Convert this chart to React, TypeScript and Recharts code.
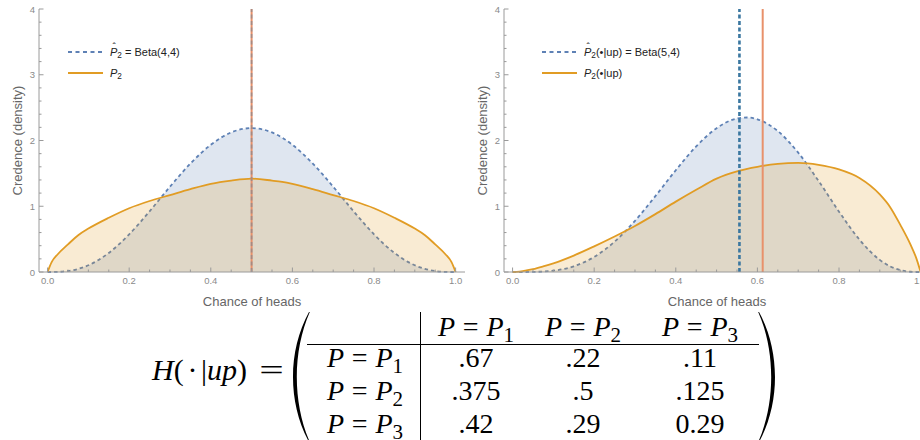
import React from "react";
import { ComposedChart, Area, XAxis, YAxis, ReferenceLine, Legend } from "recharts";

// chance of heads grid
const xs = [0, 0.01, 0.025, 0.05, 0.075, 0.1, 0.15, 0.2, 0.25, 0.3, 0.35, 0.4, 0.45, 0.5, 0.55, 0.575, 0.6, 0.65, 0.7, 0.75, 0.8, 0.85, 0.9, 0.925, 0.95, 0.975, 0.99, 1];

// left panel: prior
const leftBeta = [0, 0.0001, 0.002, 0.015, 0.047, 0.102, 0.29, 0.573, 0.923, 1.297, 1.649, 1.935, 2.123, 2.188, 2.123, 2.043, 1.935, 1.649, 1.297, 0.923, 0.573, 0.29, 0.102, 0.047, 0.015, 0.002, 0.0001, 0];
const leftP2 = [0, 0.15, 0.27, 0.42, 0.56, 0.66, 0.825, 0.97, 1.08, 1.17, 1.26, 1.34, 1.39, 1.42, 1.39, 1.37, 1.34, 1.26, 1.17, 1.08, 0.97, 0.825, 0.66, 0.56, 0.42, 0.27, 0.15, 0];

// right panel: after "up"
const rightBeta = [0, 0, 0.0001, 0.0015, 0.007, 0.02, 0.087, 0.229, 0.461, 0.778, 1.154, 1.548, 1.91, 2.188, 2.335, 2.35, 2.322, 2.143, 1.815, 1.384, 0.918, 0.493, 0.184, 0.087, 0.029, 0.004, 0.0003, 0];
const rightP2 = [0, 0.003, 0.013, 0.042, 0.084, 0.132, 0.25, 0.39, 0.54, 0.7, 0.88, 1.07, 1.25, 1.42, 1.53, 1.57, 1.6, 1.645, 1.66, 1.63, 1.56, 1.43, 1.18, 0.99, 0.72, 0.42, 0.2, 0];

// means drawn as vertical lines
const leftMeans = { beta: 0.5, p2: 0.5 };
const rightMeans = { beta: 0.556, p2: 0.613 };

const xTicks = [0, 0.05, 0.1, 0.15, 0.2, 0.25, 0.3, 0.35, 0.4, 0.45, 0.5, 0.55, 0.6, 0.65, 0.7, 0.75, 0.8, 0.85, 0.9, 0.95, 1];
const yTicks = [0, 0.2, 0.4, 0.6, 0.8, 1, 1.2, 1.4, 1.6, 1.8, 2, 2.2, 2.4, 2.6, 2.8, 3, 3.2, 3.4, 3.6, 3.8, 4];

// H(.|up) table
const colSubs = ["1", "2", "3"];
const rowSubs = ["1", "2", "3"];
const hValues = [
  [".67", ".22", ".11"],
  [".375", ".5", ".125"],
  [".42", ".29", "0.29"],
];

const BLUE = "#5E81B5";
const ORANGE = "#E19C24";
const MEAN_BLUE = "#3A77A0";
const MEAN_ORANGE = "#E8916B";
const AXIS = "#9a9a9a";

const leftData = xs.map((x, i) => ({ x, beta: leftBeta[i], p2: leftP2[i] }));
const rightData = xs.map((x, i) => ({ x, beta: rightBeta[i], p2: rightP2[i] }));

function XTick(props: any) {
  const { x, y, payload } = props;
  const v = payload.value;
  const major = Math.round(v * 20) % 4 === 0;
  return (
    <g>
      <line x1={x} x2={x} y1={y} y2={y - (major ? 4.5 : 2.5)} stroke={AXIS} />
      {major && (
        <text x={x} y={y + 12} textAnchor="middle" fontSize={9.5} fill="#8a8a8a">
          {v.toFixed(1)}
        </text>
      )}
    </g>
  );
}

function YTick(props: any) {
  const { x, y, payload } = props;
  const v = payload.value;
  const major = Math.round(v * 5) % 5 === 0;
  return (
    <g>
      <line x1={x} x2={x + (major ? 4.5 : 2.5)} y1={y} y2={y} stroke={AXIS} />
      {major && (
        <text x={x - 4} y={y + 3.5} textAnchor="end" fontSize={9.5} fill="#8a8a8a">
          {Math.round(v)}
        </text>
      )}
    </g>
  );
}

function Sub({ children }: { children: React.ReactNode }) {
  return <span style={{ fontSize: "0.75em", position: "relative", top: "0.3em" }}>{children}</span>;
}

function HatP() {
  return (
    <span style={{ position: "relative", fontStyle: "italic", display: "inline-block" }}>
      P
      <span style={{ position: "absolute", left: 2.5, top: -3.5, fontStyle: "normal", fontSize: 10, lineHeight: 1 }}>ˆ</span>
    </span>
  );
}

const leftLabels = [
  <span><HatP /><Sub>2</Sub> = Beta(4,4)</span>,
  <span><i>P</i><Sub>2</Sub></span>,
];
const rightLabels = [
  <span><HatP /><Sub>2</Sub>(•|up) = Beta(5,4)</span>,
  <span><i>P</i><Sub>2</Sub>(•|up)</span>,
];

function LegendBox({ labels }: { labels: React.ReactNode[] }) {
  const samples = [
    { color: BLUE, dash: "4 3.5" },
    { color: ORANGE, dash: undefined },
  ];
  return (
    <div style={{ fontSize: 11, color: "#222", fontFamily: "'Liberation Sans', Arial, sans-serif" }}>
      {labels.map((lab, i) => (
        <div key={i} style={{ display: "flex", alignItems: "center", height: 21 }}>
          <svg width={35} height={4} style={{ marginRight: 7 }}>
            <line x1={0} x2={35} y1={2} y2={2} stroke={samples[i].color} strokeWidth={2} strokeDasharray={samples[i].dash} />
          </svg>
          {lab}
        </div>
      ))}
    </div>
  );
}

function DensityChart({ data, means, labels, legendLeft, left }: any) {
  return (
    <div style={{ position: "absolute", left, top: 0 }}>
      <ComposedChart width={470} height={310} data={data} margin={{ top: 9, right: 5, bottom: 0, left: 0 }}>
        <XAxis
          type="number"
          dataKey="x"
          domain={[-0.021, 1.023]}
          allowDataOverflow
          ticks={xTicks}
          interval={0}
          tickSize={0}
          tickMargin={0}
          tickLine={false}
          tick={XTick}
          axisLine={{ stroke: AXIS }}
          height={38}
          label={{ value: "Chance of heads", position: "insideBottom", offset: 4, fill: "#666", fontSize: 13 }}
        />
        <YAxis
          type="number"
          domain={[0, 4]}
          ticks={yTicks}
          interval={0}
          tickSize={0}
          tickMargin={0}
          tickLine={false}
          tick={YTick}
          axisLine={{ stroke: AXIS }}
          width={39}
          label={{ value: "Credence (density)", angle: -90, position: "insideLeft", offset: 17, fill: "#666", fontSize: 13, style: { textAnchor: "middle" } }}
        />
        <Area type="monotone" dataKey="beta" stroke={BLUE} strokeWidth={1.8} strokeDasharray="3.5 3" fill={BLUE} fillOpacity={0.2} dot={false} activeDot={false} isAnimationActive={false} />
        <Area type="monotone" dataKey="p2" stroke={ORANGE} strokeWidth={1.8} fill={ORANGE} fillOpacity={0.2} dot={false} activeDot={false} isAnimationActive={false} />
        <ReferenceLine x={means.p2} stroke={MEAN_ORANGE} strokeWidth={2} />
        <ReferenceLine x={means.beta} stroke={MEAN_BLUE} strokeWidth={means.beta === means.p2 ? 2 : 2.6} strokeOpacity={means.beta === means.p2 ? 0.35 : 1} strokeDasharray="4 2.5" />
        <Legend
          layout="vertical"
          align="center"
          verticalAlign="middle"
          wrapperStyle={{ left: legendLeft, top: 41.5, width: "auto" }}
          content={() => <LegendBox labels={labels} />}
        />
      </ComposedChart>
    </div>
  );
}

function PEq({ sub }: { sub: string }) {
  return (
    <span>
      <i>P</i>
      <span style={{ margin: "0 0.28em" }}>=</span>
      <i>P</i>
      <Sub>{sub}</Sub>
    </span>
  );
}

function parenPath(xe: number, xb: number, top: number, bot: number, dir: number, thick: number) {
  const h = bot - top;
  const c1 = (xb - 0.25 * xe) / 0.75;
  const xi = xe + dir * 0.8;
  const c2 = (xb + dir * thick - 0.25 * xi) / 0.75;
  return `M${xe},${top} C${c1},${top + h * 0.3} ${c1},${bot - h * 0.3} ${xe},${bot} L${xi},${bot} C${c2},${bot - h * 0.3} ${c2},${top + h * 0.3} ${xi},${top} Z`;
}

const COL_X = [476, 583, 700];
const ROW_Y = [358, 391, 424];
const HEAD_Y = 327;
const LABEL_X = 365;

function Cell({ cx, cy, children }: any) {
  return (
    <div style={{ position: "absolute", left: cx, top: cy, transform: "translate(-50%, -50%)", whiteSpace: "nowrap" }}>
      {children}
    </div>
  );
}

function Matrix() {
  return (
    <div style={{ position: "absolute", left: 0, top: 0, width: 920, height: 440, fontFamily: "'Liberation Serif', 'DejaVu Serif', serif", fontSize: 28, lineHeight: 1, color: "#000" }}>
      <div style={{ position: "absolute", left: 284, top: 370, transform: "translate(-100%, -50%)", whiteSpace: "nowrap", fontSize: 30 }}>
        <i>H</i>(<span style={{ margin: "0 0.12em" }}>·</span>|<i>up</i>)
        <span style={{ display: "inline-block", margin: "0 0.12em 0 0.55em", transform: "scaleX(1.45)", transformOrigin: "center" }}>=</span>
      </div>
      <svg width={920} height={440} style={{ position: "absolute", left: 0, top: 0 }}>
        <path d={parenPath(309, 293, 312, 442, 1, 3.8)} fill="#000" />
        <path d={parenPath(759, 775, 312, 442, -1, 3.8)} fill="#000" />
        <line x1={420.5} x2={420.5} y1={312} y2={440} stroke="#000" strokeWidth={1} />
        <line x1={307} x2={759} y1={344.5} y2={344.5} stroke="#000" strokeWidth={1} />
      </svg>
      {colSubs.map((s, j) => (
        <Cell key={"h" + j} cx={COL_X[j]} cy={HEAD_Y}><PEq sub={s} /></Cell>
      ))}
      {rowSubs.map((s, i) => (
        <React.Fragment key={"r" + i}>
          <Cell cx={LABEL_X} cy={ROW_Y[i]}><PEq sub={s} /></Cell>
          {hValues[i].map((v, j) => (
            <Cell key={j} cx={COL_X[j]} cy={ROW_Y[i]}>{v}</Cell>
          ))}
        </React.Fragment>
      ))}
    </div>
  );
}

export default function App() {
  return (
    <div style={{ position: "fixed", left: 0, top: 0, width: 920, height: 440, overflow: "hidden", background: "#fff", fontFamily: "'Liberation Sans', Arial, sans-serif" }}>
      <DensityChart data={leftData} means={leftMeans} labels={leftLabels} legendLeft={68} left={0} />
      <DensityChart data={rightData} means={rightMeans} labels={rightLabels} legendLeft={77} left={465} />
      <Matrix />
    </div>
  );
}
